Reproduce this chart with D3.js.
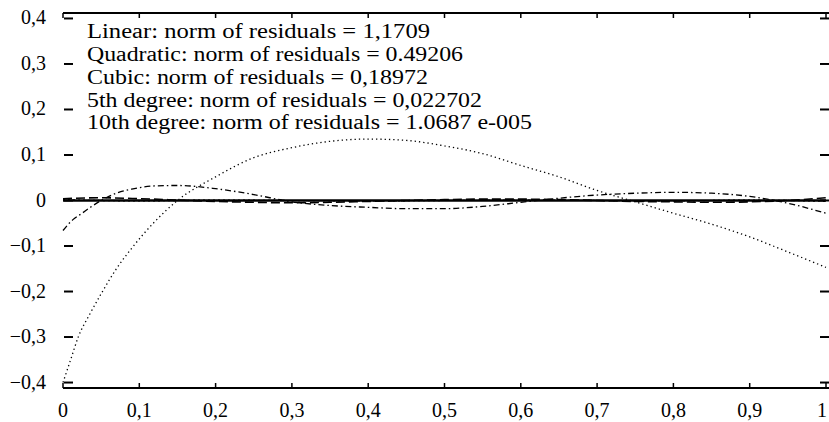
<!DOCTYPE html>
<html><head><meta charset="utf-8">
<script src="https://cdn.jsdelivr.net/npm/d3@7"></script>
<style>body{margin:0;background:#fff}svg{display:block}</style>
</head><body>
<svg id="c" width="829" height="422"></svg>
<script>
// ---- data ----
const xTicks = [0,0.1,0.2,0.3,0.4,0.5,0.6,0.7,0.8,0.9,1];
const xTickLabels = ["0","0,1","0,2","0,3","0,4","0,5","0,6","0,7","0,8","0,9","1"];
const yTicks = [0.4,0.3,0.2,0.1,0,-0.1,-0.2,-0.3,-0.4];
const yTickLabels = ["0,4","0,3","0,2","0,1","0","\u22120,1","\u22120,2","\u22120,3","\u22120,4"];
const legendLines = [
  "Linear: norm of residuals = 1,1709",
  "Quadratic: norm of residuals = 0.49206",
  "Cubic: norm of residuals = 0,18972",
  "5th degree: norm of residuals = 0,022702",
  "10th degree: norm of residuals = 1.0687 e-005"
];
const linearX = [0,0.01,0.02,0.035,0.05,0.07,0.09,0.12,0.15,0.2,0.25,0.3,0.35,0.4,0.45,0.5,0.55,0.6,0.65,0.7,0.75,0.8,0.85,0.9,0.95,1];
const linearY = [-0.40,-0.35,-0.30,-0.25,-0.205,-0.15,-0.105,-0.047,0,0.052,0.094,0.116,0.13,0.135,0.132,0.12,0.103,0.077,0.052,0.022,-0.003,-0.028,-0.052,-0.08,-0.113,-0.147];
const quadX = [0,0.013,0.025,0.035,0.05,0.07,0.09,0.12,0.15,0.2,0.25,0.3,0.35,0.4,0.45,0.5,0.55,0.6,0.65,0.7,0.75,0.8,0.85,0.9,0.95,1];
const quadY = [-0.066,-0.042,-0.028,-0.016,0,0.016,0.025,0.032,0.033,0.026,0.013,-0.003,-0.011,-0.015,-0.018,-0.018,-0.013,-0.004,0.005,0.012,0.016,0.018,0.016,0.009,-0.006,-0.028];
const cubicX = [0,0.05,0.1,0.15,0.2,0.25,0.3,0.35,0.4,0.45,0.5,0.55,0.6,0.65,0.7,0.75,0.8,0.85,0.9,0.95,1];
const cubicY = [0.004,0.006,0.004,0.001,-0.002,-0.004,-0.005,-0.004,-0.002,0.0,0.002,0.003,0.003,0.002,0.0,-0.002,-0.003,-0.004,-0.003,0.0,0.006];
const fifthX = [0,0.1,0.2,0.3,0.4,0.5,0.6,0.7,0.8,0.9,1];
const fifthY = [0.002,-0.001,0.001,0.0,-0.001,0.0,0.001,0.0,-0.001,0.001,-0.002];
const tenthX = [0,0.5,1];
const tenthY = [0,0,0];

// ---- chart ----
const svg = d3.select("#c");
const x = d3.scaleLinear().domain([0,1]).range([63,826]);
const y = d3.scaleLinear().domain([-0.412,0.412]).range([388,13]);
const font = "Liberation Serif, Times New Roman, serif";

svg.append("line").attr("x1",63).attr("x2",829).attr("y1",y(0.412)).attr("y2",y(0.412)).attr("stroke","#000").attr("stroke-width",2);
svg.append("line").attr("x1",63).attr("x2",829).attr("y1",y(-0.412)).attr("y2",y(-0.412)).attr("stroke","#000").attr("stroke-width",2);

xTicks.forEach(t=>{
  svg.append("line").attr("x1",x(t)).attr("x2",x(t)).attr("y1",y(-0.412)).attr("y2",y(-0.412)-5).attr("stroke","#000").attr("stroke-width",1.5);
  svg.append("line").attr("x1",x(t)).attr("x2",x(t)).attr("y1",y(0.412)).attr("y2",y(0.412)+5).attr("stroke","#000").attr("stroke-width",1.5);
});
svg.append("g").selectAll("text").data(xTicks).join("text")
  .attr("x",d=>Math.min(x(d),822)).attr("y",417).attr("text-anchor","middle")
  .attr("font-family",font).attr("font-size",20).attr("fill","#000")
  .text((d,i)=>xTickLabels[i]);

yTicks.forEach(t=>{
  svg.append("line").attr("x1",64).attr("x2",73).attr("y1",y(t)).attr("y2",y(t)).attr("stroke","#000").attr("stroke-width",2);
  svg.append("line").attr("x1",820).attr("x2",829).attr("y1",y(t)).attr("y2",y(t)).attr("stroke","#000").attr("stroke-width",2);
});
svg.append("g").selectAll("text").data(yTicks).join("text")
  .attr("x",46).attr("y",d=>y(d)+6).attr("text-anchor","end")
  .attr("font-family",font).attr("font-size",20).attr("fill","#000")
  .text((d,i)=>yTickLabels[i]);

const line = d3.line().x(d=>x(d[0])).y(d=>y(d[1])).curve(d3.curveMonotoneX);
function draw(xs, ys, dash, w){
  svg.append("path").datum(xs.map((v,i)=>[v,ys[i]]))
    .attr("d",line).attr("fill","none").attr("stroke","#000")
    .attr("stroke-width",w).attr("stroke-dasharray",dash);
}
draw(tenthX, tenthY, null, 2.4);
draw(fifthX, fifthY, "2,3", 1.2);
draw(cubicX, cubicY, "9,4", 1.6);
draw(quadX, quadY, "6,3,1.5,3", 1.3);
draw(linearX, linearY, "1.3,3", 1.3);

const legendEnds = [430,463,428,482,532];
const baselines = [38,61,84,107,129];
legendLines.forEach((s,i)=>{
  svg.append("text").attr("x",87).attr("y",baselines[i])
    .attr("font-family",font).attr("font-size",20).attr("fill","#000")
    .attr("textLength",legendEnds[i]-87).attr("lengthAdjust","spacingAndGlyphs")
    .text(s);
});
</script>
</body></html>
